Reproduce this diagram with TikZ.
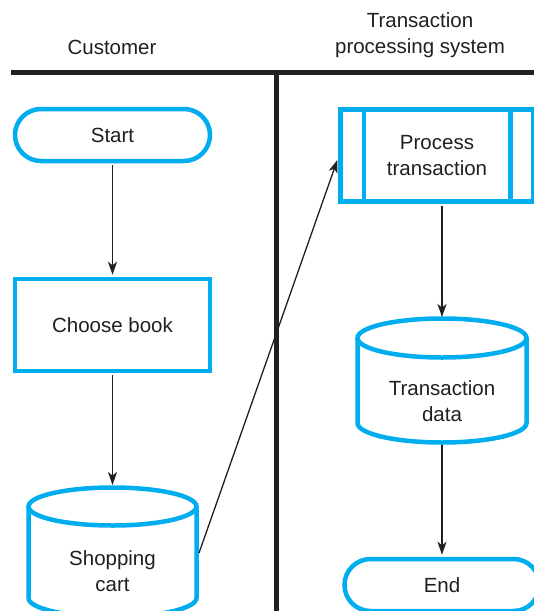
\documentclass[tikz,border=0pt]{standalone}
\usepackage{fontspec}
\setmainfont{Liberation Sans}
\usetikzlibrary{shapes.misc,arrows.meta}
\definecolor{flowblue}{RGB}{0,174,239}
\definecolor{ink}{RGB}{35,31,32}

\begin{document}
\begin{tikzpicture}[x=1pt,y=-1pt,
  every node/.style={font=\fontsize{20.5}{26.5}\selectfont, text=ink},
  terminal/.style={rounded rectangle, draw=flowblue, line width=4.5pt,
    minimum width=195pt, minimum height=52pt, inner sep=0pt},
  procbox/.style={rectangle, draw=flowblue, line width=4.5pt,
    minimum height=92pt, inner sep=0pt, align=center},
  anchorbox/.style={rectangle, draw=none, inner sep=0pt, outer sep=0pt},
  flow/.style={draw=ink, line width=1.3pt,
    -{Stealth[length=13pt,width=9pt,inset=3.5pt]}},
  lane/.style={draw=ink, line width=5pt},
  store/.style={draw=flowblue, line width=4.5pt}
]
\clip (0,0) rectangle (534,611);
\fill[white] (0,0) rectangle (534,611);

% swimlane headings and dividers
\node (custhead) at (112,47) {Customer};
\node[align=center] (tpshead) at (420,35) {Transaction\\processing system};
\draw[lane] (11,72.5) -- (534,72.5);
\draw[lane] (276.5,72.5) -- (276.5,611);

% customer lane
\node[terminal] (start) at (112.5,135) {Start};
\node[procbox, minimum width=195pt] (choose) at (112.5,325) {Choose book};

% shopping cart data store
\draw[store] (28.5,506.5) -- (28.5,598)
  arc[start angle=180, end angle=0, x radius=84, y radius=19]
  -- (196.5,506.5);
\draw[store] (112.5,506.5) ellipse [x radius=84, y radius=19];
\node[anchorbox, minimum width=173pt, minimum height=136pt] (cart) at (112.5,553) {};
\node[align=center] (cartlabel) at (112.5,571) {Shopping\\cart};

% transaction processing lane
\node[procbox, minimum width=193pt, text width=130pt] (proc) at (437,155.5) {Process\\transaction};
\draw[store] ([xshift=25.5pt]proc.north west) -- ([xshift=25.5pt]proc.south west);
\draw[store] ([xshift=-25.5pt]proc.north east) -- ([xshift=-25.5pt]proc.south east);

% transaction data store
\draw[store] (357.5,338) -- (357.5,423)
  arc[start angle=180, end angle=0, x radius=84.5, y radius=19.5]
  -- (526.5,338);
\draw[store] (442,338) ellipse [x radius=84.5, y radius=19.5];
\node[anchorbox, minimum width=174pt, minimum height=128pt] (data) at (442,381) {};
\node[align=center] (datalabel) at (442,401) {Transaction\\data};

\node[terminal] (finish) at (442,585) {End};

% connectors
\draw[flow, shorten <=2pt, shorten >=2pt] (start.south) -- (choose.north);
\draw[flow, shorten <=2pt] (choose.south) -- (cart.north);
\draw[flow, shorten >=2.5pt] (cart.east) -- ([yshift=-2pt]proc.west);
\draw[flow, shorten <=2pt] (proc.south -| data.north) -- (data.north);
\draw[flow, shorten >=2pt] (data.south) -- (finish.north);
\end{tikzpicture}
\end{document}
